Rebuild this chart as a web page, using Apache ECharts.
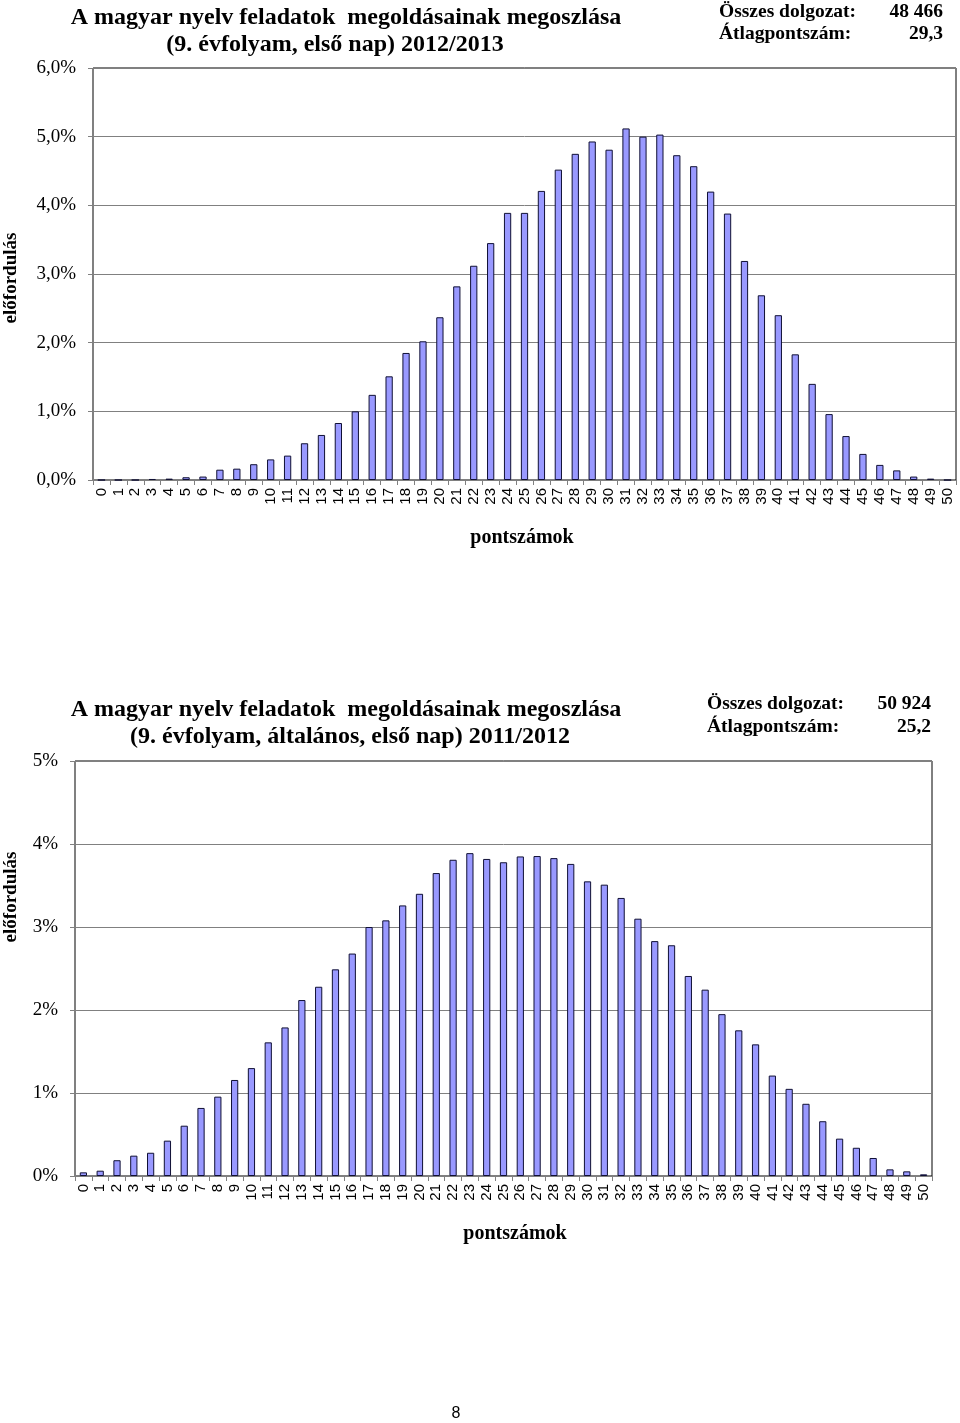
<!DOCTYPE html>
<html><head><meta charset="utf-8">
<script src="https://cdn.jsdelivr.net/npm/echarts@6/dist/echarts.min.js"></script>
<style>html,body{margin:0;padding:0;background:#fff}#c{width:960px;height:1423px}</style>
</head><body><div id="c"></div>
<script>
const categories = Array.from({length:51},(_,i)=>String(i));
const values2013 = [0,0,0,0.015,0.02,0.04,0.05,0.15,0.165,0.23,0.30,0.355,0.535,0.656,0.83,1.00,1.24,1.51,1.85,2.02,2.37,2.82,3.12,3.45,3.89,3.89,4.21,4.52,4.75,4.93,4.81,5.12,5.00,5.03,4.73,4.57,4.20,3.88,3.19,2.69,2.40,1.83,1.40,0.96,0.64,0.38,0.22,0.14,0.05,0.02,0];
const values2012 = [0.044,0.064,0.19,0.245,0.28,0.426,0.606,0.82,0.956,1.157,1.30,1.61,1.79,2.12,2.28,2.49,2.68,3.00,3.08,3.26,3.40,3.65,3.81,3.89,3.82,3.78,3.85,3.855,3.83,3.76,3.55,3.51,3.35,3.10,2.83,2.78,2.41,2.245,1.95,1.755,1.586,1.21,1.05,0.87,0.66,0.45,0.34,0.217,0.08,0.056,0.02];
const yTicks1 = [0,1,2,3,4,5,6];
const yTicks2 = [0,1,2,3,4,5];

const serif = "'Liberation Serif','Times New Roman',serif";
const sans = "'Liberation Sans',Arial,sans-serif";
const chart = echarts.init(document.getElementById('c'), null, {renderer:'canvas'});

function xAx(gi){return {type:'category',gridIndex:gi,data:categories,boundaryGap:true,
  axisLine:{lineStyle:{color:'#808080',width:1}},
  axisTick:{show:true,alignWithLabel:false,interval:0,length:5,lineStyle:{color:'#808080'}},
  axisLabel:{interval:0,rotate:90,fontFamily:sans,fontSize:15,color:'#000',margin:8}};}
function yAx(gi,max,fmt){return {type:'value',gridIndex:gi,min:0,max:max,interval:1,
  axisLine:{show:true,lineStyle:{color:'#808080'}},
  axisTick:{show:true,length:5,inside:false,lineStyle:{color:'#808080'}},
  splitLine:{show:true,lineStyle:{color:'#808080',width:1}},
  axisLabel:{fontFamily:serif,fontSize:19,color:'#000',margin:17,formatter:fmt}};}

const barStyle = {color:'#9999ff',borderColor:'#101035',borderWidth:1};

function txt(x,y,s,size,weight,align,rot){return {type:'text',x:x,y:y,rotation:rot||0,
  style:{text:s,fontFamily:serif,fontSize:size,fontWeight:weight,fill:'#000',align:align||'left',verticalAlign:'middle'}};}

chart.setOption({
  animation:false,
  grid:[
    {left:93,top:68,width:863,height:412,show:true,borderColor:'#000',borderWidth:1,backgroundColor:'transparent'},
    {left:75,top:761,width:857,height:415,show:true,borderColor:'#000',borderWidth:1,backgroundColor:'transparent'}
  ],
  xAxis:[xAx(0),xAx(1)],
  yAxis:[
    yAx(0,6,v=>v.toFixed(1).replace('.',',')+'%'),
    yAx(1,5,v=>v+'%')
  ],
  series:[
    {type:'bar',xAxisIndex:0,yAxisIndex:0,data:values2013,barWidth:'43%',itemStyle:barStyle},
    {type:'bar',xAxisIndex:1,yAxisIndex:1,data:values2012,barWidth:'43%',itemStyle:barStyle}
  ],
  graphic:[
    txt(346,18,'A magyar nyelv feladatok  megoldásainak megoszlása',24,'bold','center'),
    txt(335,45,'(9. évfolyam, első nap) 2012/2013',24,'bold','center'),
    txt(719,12,'Összes dolgozat:',19.5,'bold','left'),
    txt(943,12,'48 466',19.5,'bold','right'),
    txt(719,34,'Átlagpontszám:',19.5,'bold','left'),
    txt(943,34,'29,3',19.5,'bold','right'),
    txt(11,278,'előfordulás',19,'bold','center',Math.PI/2),
    txt(522,538,'pontszámok',20,'bold','center'),
    txt(346,710,'A magyar nyelv feladatok  megoldásainak megoszlása',24,'bold','center'),
    txt(350,737,'(9. évfolyam, általános, első nap) 2011/2012',24,'bold','center'),
    txt(707,704,'Összes dolgozat:',19.5,'bold','left'),
    txt(931,704,'50 924',19.5,'bold','right'),
    txt(707,727,'Átlagpontszám:',19.5,'bold','left'),
    txt(931,727,'25,2',19.5,'bold','right'),
    txt(11,897,'előfordulás',19,'bold','center',Math.PI/2),
    txt(515,1234,'pontszámok',20,'bold','center'),
    {type:'text',x:456,y:1414,style:{text:'8',fontFamily:sans,fontSize:16,fill:'#000',align:'center',verticalAlign:'middle'}}
  ]
});
</script></body></html>
